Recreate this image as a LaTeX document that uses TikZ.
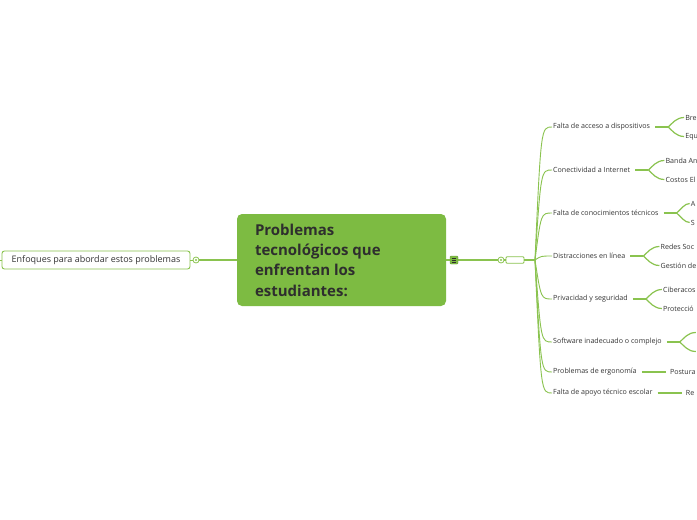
\documentclass[tikz,border=0pt]{standalone}
\usepackage{fontspec}
\setmainfont{Open Sans}
\definecolor{mg}{HTML}{7DBB42}
\definecolor{ln}{HTML}{8AC34F}
\definecolor{tx}{HTML}{333333}
\definecolor{ctx}{HTML}{2E2E2E}
\begin{document}
\begin{tikzpicture}[x=1pt,y=-1pt,
  sub/.style={font=\fontsize{7.1}{8}\selectfont, text=tx, inner sep=1pt, anchor=west},
  conn/.style={draw=ln, line width=0.9pt},
  stub/.style={draw=ln, line width=1.6pt},
  gconn/.style={draw=ln, line width=1.2pt}]
\useasboundingbox (0,0) rectangle (697,520);
\fill[white] (0,0) rectangle (697,520);

% central node
\node[fill=mg, rounded corners=5pt, minimum width=209pt, minimum height=92pt, inner sep=0pt] (main) at (341.5,260)
  {\parbox{173pt}{\hspace*{0pt}\parbox[c]{150pt}{\raggedright\bfseries\color{ctx}\fontsize{15}{20.3}\selectfont Problemas tecnológicos que enfrentan los estudiantes:}}};

% left node
\node[draw=ln, line width=0.9pt, fill=white, rounded corners=2.5pt, minimum width=188pt, minimum height=18pt, inner sep=0pt,
  font=\fontsize{9}{10}\selectfont, text=tx] (left) at (96,260) {Enfoques para abordar estos problemas};
\coordinate (lend) at (0,260);
\node[circle, draw=ln, fill=white, line width=0.8pt, minimum size=6pt, inner sep=0pt] (lcirc) at (196,260) {};
\draw[stub] (main.west) -- (lcirc.east);
\draw[draw=ln, line width=0.9pt] (lcirc.west) -- (left.east);
\draw[draw=ln, line width=0.9pt] (left.west) -- (lend);
\fill[ln] (lcirc.center) circle (1.2pt);

% right hub
\node[circle, draw=ln, fill=white, line width=0.8pt, minimum size=6pt, inner sep=0pt] (rcirc) at (501,260) {};
\node[draw=ln, fill=white, line width=0.8pt, rounded corners=1pt, minimum width=18pt, minimum height=6.5pt, inner sep=0pt] (rbox) at (515,260) {};
\coordinate (hub) at (535,260);
\draw[stub] (main.east) -- (rcirc.west);
\draw[stub] (rcirc.east) -- (rbox.west);
\draw[draw=ln, line width=2.2pt] (rbox.east) -- (hub);
\fill[ln] (rcirc.center) circle (1.2pt);
% icon
\node[fill=mg, draw=ln!80!black, line width=0.4pt, rounded corners=1pt, minimum size=8pt, inner sep=0pt] (icon) at (454,260) {};
\foreach \dy in {-1.8,0,1.8} \draw[ctx, line width=0.5pt] ([xshift=-2.3pt,yshift=\dy pt]icon.center) -- ([xshift=2.3pt,yshift=\dy pt]icon.center);

% children
\node[sub] (c1) at (552,127) {Falta de acceso a dispositivos};
\node[sub] (c2) at (552,170) {Conectividad a Internet};
\node[sub] (c3) at (552,213) {Falta de conocimientos técnicos};
\node[sub] (c4) at (552,256) {Distracciones en línea};
\node[sub] (c5) at (552,299) {Privacidad y seguridad};
\node[sub] (c6) at (552,342) {Software inadecuado o complejo};
\node[sub] (c7) at (552,372) {Problemas de ergonomía};
\node[sub] (c8) at (552,393) {Falta de apoyo técnico escolar};

\draw[conn] (hub) .. controls (541,127) .. (c1.west);
\draw[conn] (hub) .. controls (541,170) .. (c2.west);
\draw[conn] (hub) .. controls (541,213) .. (c3.west);
\draw[conn] (hub) .. controls (541,256) .. (c4.west);
\draw[conn] (hub) .. controls (541,299) .. (c5.west);
\draw[conn] (hub) .. controls (541,342) .. (c6.west);
\draw[conn] (hub) .. controls (541,372) .. (c7.west);
\draw[conn] (hub) .. controls (541,393) .. (c8.west);

% branches with two grandchildren
\foreach \c/\ga/\gb/\gx in {c1/Bre/Equ/16, c2/Banda An/Costos El/16, c3/A/S/13, c4/Redes Soc/Gestión de/16, c5/Ciberacos/Protecció/16, c6//{}/16}{
  \coordinate (\c a) at ([xshift=4pt]\c.east);
  \coordinate (\c b) at ([xshift=17pt]\c.east);
  \node[sub] (\c ga) at ([xshift={17pt+\gx pt},yshift=9.5pt]\c.east) {\ga};
  \node[sub] (\c gb) at ([xshift={17pt+\gx pt},yshift=-9.5pt]\c.east) {\gb};
  \draw[stub] (\c a) -- (\c b);
  \draw[gconn] (\c b) .. controls ([xshift=4pt,yshift=3.5pt]\c b) and ([xshift=8pt,yshift=9.5pt]\c b) .. (\c ga.west);
  \draw[gconn] (\c b) .. controls ([xshift=4pt,yshift=-3.5pt]\c b) and ([xshift=8pt,yshift=-9.5pt]\c b) .. (\c gb.west);
}

% single grandchildren
\node[sub] (c7g) at ([xshift=31pt]c7.east) {Postura};
\node[sub] (c8g) at ([xshift=31pt]c8.east) {Re};
\draw[stub] ([xshift=4pt]c7.east) -- ([xshift=-3pt]c7g.west);
\draw[stub] ([xshift=4pt]c8.east) -- ([xshift=-3pt]c8g.west);
\end{tikzpicture}
\end{document}
